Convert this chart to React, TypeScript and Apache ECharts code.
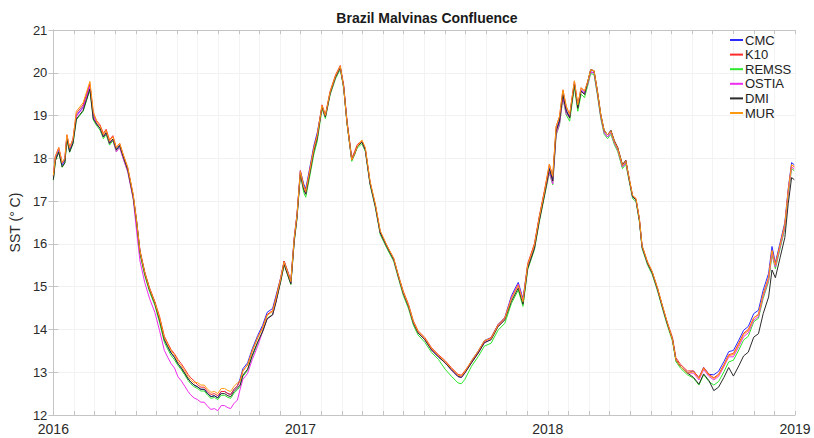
import React, { useEffect, useRef } from "react";
import * as echarts from "echarts";

// Products plotted, in legend order (last one is drawn on top)
const seriesNames = ["CMC", "K10", "REMSS", "OSTIA", "DMI", "MUR"];
const seriesColors = ["#2b2bff", "#ff2a2a", "#2ee82e", "#ee2cee", "#2a2a2a", "#ff9a10"];

// Sample dates, in days since 1 Jan 2016
const dayOffsets = [
  0, 3, 8, 13, 17, 20, 24, 29, 34, 39, 44, 49, 54, 59, 64, 69, 74, 78, 83, 88,
  93, 98, 103, 110, 118, 123, 128, 135, 142, 150, 157, 164, 169, 174, 179, 184, 189, 194, 199, 203,
  208, 213, 218, 223, 228, 233, 238, 243, 248, 253, 258, 262, 267, 272, 276, 280, 287, 294, 302, 309,
  316, 324, 329, 336, 341, 346, 351, 356, 360, 365, 370, 373, 378, 385, 390, 397, 402, 409, 417, 424,
  429, 434, 441, 445, 449, 456, 461, 468, 476, 483, 493, 503, 510, 517, 525, 532, 539, 549, 559, 569,
  579, 588, 598, 603, 608, 618, 628, 637, 647, 657, 667, 677, 687, 694, 701, 711, 718, 726, 733, 738,
  743, 748, 753, 758, 763, 770, 775, 780, 785, 790, 794, 799, 804, 809, 814, 819, 824, 829, 834, 841,
  846, 851, 856, 861, 866, 870, 878, 885, 893, 900, 907, 915, 920, 927, 937, 946, 954, 961, 969, 976,
  983, 991, 998, 1005, 1013, 1020, 1027, 1035, 1042, 1049, 1057, 1062, 1067, 1074, 1081, 1086, 1091, 1095,
];

// Common SST track (deg C) at the dates above
const meanSst = [
  17.55, 18.0, 18.2, 17.85, 17.95, 18.5, 18.2, 18.4, 19.0, 19.1, 19.2, 19.45, 19.7, 19.0, 18.8, 18.7, 18.5, 18.6, 18.35, 18.45,
  18.2, 18.3, 18.05, 17.73, 17.1, 16.5, 15.8, 15.3, 14.93, 14.6, 14.22, 13.76, 13.6, 13.45, 13.35, 13.2, 13.1, 12.98, 12.85, 12.77,
  12.7, 12.66, 12.6, 12.6, 12.5, 12.43, 12.45, 12.4, 12.5, 12.5, 12.45, 12.43, 12.55, 12.63, 12.75, 12.98, 13.12, 13.45, 13.76, 13.99,
  14.3, 14.39, 14.69, 15.16, 15.55, 15.32, 15.09, 16.1, 16.63, 17.66, 17.3, 17.19, 17.6, 18.2, 18.5, 19.2, 18.97, 19.52, 19.9, 20.12,
  19.67, 18.83, 17.96, 18.1, 18.27, 18.38, 18.2, 17.42, 16.87, 16.26, 15.93, 15.63, 15.23, 14.85, 14.53, 14.15, 13.92, 13.76, 13.52, 13.36,
  13.22, 13.06, 12.9, 12.88, 12.98, 13.22, 13.45, 13.69, 13.76, 14.06, 14.22, 14.69, 15.0, 14.62, 15.46, 15.93, 16.56, 17.19, 17.78, 17.5,
  18.66, 18.9, 19.52, 19.13, 18.97, 19.76, 19.2, 19.6, 19.52, 19.76, 20.02, 20.0, 19.52, 18.97, 18.6, 18.5, 18.6, 18.36, 18.2, 17.8,
  17.9, 17.5, 17.1, 17.03, 16.56, 15.93, 15.55, 15.32, 14.93, 14.53, 14.15, 13.76, 13.29, 13.13, 12.98, 12.98, 12.82, 13.06, 12.9, 12.82,
  12.9, 13.13, 13.36, 13.36, 13.6, 13.83, 13.92, 14.22, 14.3, 14.77, 15.16, 15.79, 15.46, 15.93, 16.4, 17.19, 17.8, 17.75,
];

// Monthly departure of each product from the common track (Jan 2016 .. Jan 2019)
const cmcOffset = [
  0, 0, 0, 0, 0.03, 0, 0, 0, 0.05, 0.1, 0.1, 0.05,
  0.1, 0, 0, 0, 0, 0, 0, 0, 0.05, 0.05, 0.1, 0.05,
  0, 0, 0, 0, 0, 0, 0, 0.05, 0.12, 0.15, 0.15, 0.1,
  0,
];
const k10Offset = [
  0.05, 0.05, 0.08, 0.05, 0.05, 0.08, 0.1, 0.05, 0.05, 0.05, 0.05, 0.05,
  0.05, 0.05, 0.05, 0.03, 0.03, 0.05, 0.05, 0.05, 0.03, 0.05, 0.05, 0.08,
  0.08, 0.05, 0.05, 0.05, 0.03, 0.03, 0.05, 0.05, 0.05, 0.08, 0.05, 0.05,
  0.05,
];
const remssOffset = [
  -0.06, -0.1, -0.04, -0.04, -0.04, -0.06, -0.04, -0.04, -0.04, -0.08, -0.04, -0.04,
  -0.1, -0.04, -0.03, -0.04, -0.04, -0.05, -0.06, -0.15, -0.08, -0.08, -0.08, -0.06,
  -0.12, -0.1, -0.04, -0.04, -0.04, -0.04, -0.04, -0.12, -0.12, -0.08, -0.04, -0.04,
  -0.04,
];
const ostiaOffset = [
  0.03, -0.02, 0, -0.05, -0.2, -0.25, -0.3, -0.3, -0.28, -0.15, -0.05, 0,
  0, 0, 0, 0, 0, 0, 0, 0, 0, 0.02, 0.05, 0,
  -0.1, 0, 0, 0, 0, 0, 0, 0, 0, 0, 0, 0,
  0,
];
const dmiOffset = [
  -0.05, -0.08, 0, 0, 0, 0, 0, 0, 0, -0.05, -0.05, -0.03,
  -0.03, 0, 0, 0, 0, 0, 0, 0, 0, 0, -0.03, -0.03,
  -0.03, -0.03, 0.05, 0.05, 0, 0, 0, -0.1, -0.25, -0.45, -0.4, -0.25,
  -0.1,
];
const murOffset = [
  0.05, 0.1, 0.05, 0.05, 0.03, 0.05, 0.05, 0.1, 0.12, 0.05, 0.03, 0.03,
  0.03, 0.03, 0, 0.05, 0.03, 0.03, 0.03, 0.03, 0.05, 0.03, 0.03, 0.05,
  0.08, 0.05, 0.05, 0.03, 0.03, 0.03, 0, 0.03, 0.03, 0.05, 0.05, 0.05,
  0.05,
];
const productOffsets = [cmcOffset, k10Offset, remssOffset, ostiaOffset, dmiOffset, murOffset];

const yearLabels = ["2016", "2017", "2018", "2019"];
const totalDays = 1096; // 2016-01-01 .. 2019-01-01
const monthsShown = 36;

const DAY_MS = 86400000;
const START_MS = Date.UTC(2016, 0, 1);

function monthIndex(day: number): number {
  const d = new Date(START_MS + day * DAY_MS);
  return (d.getUTCFullYear() - 2016) * 12 + d.getUTCMonth();
}

const FONT = "'Liberation Sans', Arial, Helvetica, sans-serif";
const BOX = "#c4c4c4";

export default function App() {
  const ref = useRef<HTMLDivElement>(null);

  useEffect(() => {
    if (!ref.current) return;
    const chart = echarts.init(ref.current, null, { renderer: "svg" });
    const monthStep = totalDays / monthsShown;

    const yearFormatter = (v: number) => {
      const k = Math.round(v / monthStep);
      return k % 12 === 0 ? yearLabels[k / 12] ?? "" : "";
    };

    const series = seriesNames.map((name, i) => ({
      type: "line" as const,
      name,
      xAxisIndex: 0,
      yAxisIndex: 0,
      symbol: "none",
      showSymbol: false,
      data: dayOffsets.map((d, j) => [d, +(meanSst[j] + productOffsets[i][monthIndex(d)]).toFixed(2)]),
      lineStyle: { width: 1, color: seriesColors[i] },
      itemStyle: { color: seriesColors[i] },
      z: 2 + i,
    }));

    chart.setOption({
      animation: false,
      backgroundColor: "#ffffff",
      title: {
        text: "Brazil Malvinas Confluence",
        left: 422,
        textAlign: "center",
        top: 6,
        textStyle: { fontFamily: FONT, fontSize: 14, fontWeight: "bold", color: "#1a1a1a" },
      },
      legend: {
        orient: "vertical",
        left: 725,
        top: 28,
        itemWidth: 13,
        itemHeight: 2,
        itemGap: 0.6,
        icon: "rect",
        textStyle: { fontFamily: FONT, fontSize: 13, color: "#222", padding: [0, 0, 0, -3], lineHeight: 14 },
        data: seriesNames,
      },
      grid: { left: 50, right: 19, top: 30, bottom: 23, containLabel: false },
      xAxis: [
        {
          type: "value",
          min: 0,
          max: totalDays,
          interval: monthStep,
          axisLine: { show: true, lineStyle: { color: BOX, width: 1 } },
          axisTick: { show: true, inside: true, length: 4, lineStyle: { color: BOX } },
          axisLabel: {
            formatter: yearFormatter,
            fontFamily: FONT,
            fontSize: 14,
            color: "#2a2a2a",
            margin: 7,
            showMaxLabel: true,
            showMinLabel: true,
            hideOverlap: false,
          },
          splitLine: { show: true, lineStyle: { color: "#f3f3f3", width: 1 } },
        },
        {
          type: "value",
          position: "top",
          min: 0,
          max: totalDays,
          interval: monthStep,
          axisLine: { show: true, lineStyle: { color: BOX, width: 1 } },
          axisTick: { show: true, inside: true, length: 4, lineStyle: { color: BOX } },
          axisLabel: { show: false },
          splitLine: { show: false },
        },
      ],
      yAxis: [
        {
          type: "value",
          min: 12,
          max: 21,
          interval: 1,
          name: "SST (° C)",
          nameLocation: "middle",
          nameGap: 23,
          nameTextStyle: { fontFamily: FONT, fontSize: 14, color: "#2a2a2a" },
          axisLine: { show: true, lineStyle: { color: BOX, width: 1 } },
          axisTick: { show: true, inside: true, length: 5, lineStyle: { color: BOX } },
          axisLabel: { fontFamily: FONT, fontSize: 13, color: "#2a2a2a", margin: 6 },
          splitLine: { show: true, lineStyle: { color: "#f1f1f1", width: 1 } },
        },
        {
          type: "value",
          position: "right",
          min: 12,
          max: 21,
          interval: 1,
          axisLine: { show: true, lineStyle: { color: BOX, width: 1 } },
          axisTick: { show: true, inside: true, length: 5, lineStyle: { color: BOX } },
          axisLabel: { show: false },
          splitLine: { show: false },
        },
      ],
      series,
    });

    return () => chart.dispose();
  }, []);

  return (
    <div
      ref={ref}
      style={{ position: "absolute", left: 0, top: 0, width: 814, height: 438, background: "#fff" }}
    />
  );
}
